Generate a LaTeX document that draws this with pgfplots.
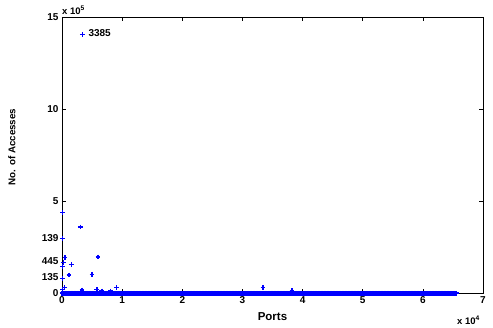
\documentclass[border=0pt]{standalone}
\usepackage{fontspec}
\setmainfont{Liberation Sans}
\usepackage{pgfplots}
\pgfplotsset{compat=1.18}
\definecolor{mblue}{RGB}{0,0,255}
\begin{document}
\begin{tikzpicture}
\begin{axis}[
 scale only axis, width=421pt, height=276pt,
 xmin=0, xmax=70000, ymin=0, ymax=1500000,
 scaled ticks=false,
 xtick={0,10000,20000,30000,40000,50000,60000,70000}, xticklabels={0,1,2,3,4,5,6,7},
 ytick={0,500000,1000000,1500000}, yticklabels={0,5,10,15},
 extra y ticks={90000,177000,299000}, extra y tick labels={135,445,139},
 extra y tick style={major tick length=0pt},
 tick align=inside, major tick length=4pt, xtick pos=both, ytick pos=both,
 axis line style={line width=0.8pt},
 tick style={black, line width=0.6pt},
 tick label style={font=\fontsize{10}{12}\selectfont\bfseries},
 /pgf/number format/assume math mode=true,
 xlabel={Ports}, ylabel={No. of Accesses},
 xlabel style={font=\fontsize{11.5}{13}\selectfont\bfseries, at={(axis description cs:0.5,-0.085)}, anchor=center},
 ylabel style={font=\fontsize{9.8}{12}\selectfont\bfseries, at={(axis description cs:-0.119,0.53)}, anchor=center},
 clip=false,
]
\addplot[only marks, draw=mblue, mark=+, mark size=2.4pt, mark options={draw=mblue, line width=1.3pt}] coordinates {
(3385,1406000) (80,440000) (3030,360000) (139,298000) (500,195000) (5970,197000)
(215,168000) (1540,158000) (100,147000) (1160,99000) (4975,103000) (100,82000)
(380,30000) (100,22000) (3320,18000) (5800,20000) (9120,30000) (8010,12500)
(6630,12500) (33430,33000) (38240,14000)
};
\addplot[only marks, draw=mblue, mark=+, mark size=2.4pt, mark options={draw=mblue, line width=1.8pt}] coordinates {
(0,0) (250,0) (500,0) (750,0) (1000,0) (1250,0) (1500,0) (1750,0) (2000,0) (2250,0)
(2500,0) (2750,0) (3000,0) (3250,0) (3500,0) (3750,0) (4000,0) (4250,0) (4500,0) (4750,0)
(5000,0) (5250,0) (5500,0) (5750,0) (6000,0) (6250,0) (6500,0) (6750,0) (7000,0) (7250,0)
(7500,0) (7750,0) (8000,0) (8250,0) (8500,0) (8750,0) (9000,0) (9250,0) (9500,0) (9750,0)
(10000,0) (10250,0) (10500,0) (10750,0) (11000,0) (11250,0) (11500,0) (11750,0) (12000,0) (12250,0)
(12500,0) (12750,0) (13000,0) (13250,0) (13500,0) (13750,0) (14000,0) (14250,0) (14500,0) (14750,0)
(15000,0) (15250,0) (15500,0) (15750,0) (16000,0) (16250,0) (16500,0) (16750,0) (17000,0) (17250,0)
(17500,0) (17750,0) (18000,0) (18250,0) (18500,0) (18750,0) (19000,0) (19250,0) (19500,0) (19750,0)
(20000,0) (20250,0) (20500,0) (20750,0) (21000,0) (21250,0) (21500,0) (21750,0) (22000,0) (22250,0)
(22500,0) (22750,0) (23000,0) (23250,0) (23500,0) (23750,0) (24000,0) (24250,0) (24500,0) (24750,0)
(25000,0) (25250,0) (25500,0) (25750,0) (26000,0) (26250,0) (26500,0) (26750,0) (27000,0) (27250,0)
(27500,0) (27750,0) (28000,0) (28250,0) (28500,0) (28750,0) (29000,0) (29250,0) (29500,0) (29750,0)
(30000,0) (30250,0) (30500,0) (30750,0) (31000,0) (31250,0) (31500,0) (31750,0) (32000,0) (32250,0)
(32500,0) (32750,0) (33000,0) (33250,0) (33500,0) (33750,0) (34000,0) (34250,0) (34500,0) (34750,0)
(35000,0) (35250,0) (35500,0) (35750,0) (36000,0) (36250,0) (36500,0) (36750,0) (37000,0) (37250,0)
(37500,0) (37750,0) (38000,0) (38250,0) (38500,0) (38750,0) (39000,0) (39250,0) (39500,0) (39750,0)
(40000,0) (40250,0) (40500,0) (40750,0) (41000,0) (41250,0) (41500,0) (41750,0) (42000,0) (42250,0)
(42500,0) (42750,0) (43000,0) (43250,0) (43500,0) (43750,0) (44000,0) (44250,0) (44500,0) (44750,0)
(45000,0) (45250,0) (45500,0) (45750,0) (46000,0) (46250,0) (46500,0) (46750,0) (47000,0) (47250,0)
(47500,0) (47750,0) (48000,0) (48250,0) (48500,0) (48750,0) (49000,0) (49250,0) (49500,0) (49750,0)
(50000,0) (50250,0) (50500,0) (50750,0) (51000,0) (51250,0) (51500,0) (51750,0) (52000,0) (52250,0)
(52500,0) (52750,0) (53000,0) (53250,0) (53500,0) (53750,0) (54000,0) (54250,0) (54500,0) (54750,0)
(55000,0) (55250,0) (55500,0) (55750,0) (56000,0) (56250,0) (56500,0) (56750,0) (57000,0) (57250,0)
(57500,0) (57750,0) (58000,0) (58250,0) (58500,0) (58750,0) (59000,0) (59250,0) (59500,0) (59750,0)
(60000,0) (60250,0) (60500,0) (60750,0) (61000,0) (61250,0) (61500,0) (61750,0) (62000,0) (62250,0)
(62500,0) (62750,0) (63000,0) (63250,0) (63500,0) (63750,0) (64000,0) (64250,0) (64500,0) (64750,0)
(65000,0) (65250,0) (65535,0)
};
\node[anchor=west, inner sep=0pt, xshift=6pt, yshift=2pt, font=\fontsize{10}{12}\selectfont\bfseries] at (axis cs:3385,1406000) {3385};
\node[anchor=base west, inner sep=0pt, yshift=2.5pt, font=\fontsize{9.5}{11}\selectfont\bfseries] at (rel axis cs:0,1) {x 10$^{\mathbf{5}}$};
\node[anchor=base east, inner sep=0pt, yshift=-31.5pt, xshift=-3pt, font=\fontsize{9.5}{11}\selectfont\bfseries] at (rel axis cs:1,0) {x 10$^{\mathbf{4}}$};
\end{axis}
\path (current axis.south west) ++(-62pt,-33.7pt) coordinate (bl);
\path (current axis.north east) ++(10pt,17.3pt) coordinate (tr);
\pgfresetboundingbox
\path[use as bounding box] (bl) rectangle (tr);
\end{tikzpicture}
\end{document}
